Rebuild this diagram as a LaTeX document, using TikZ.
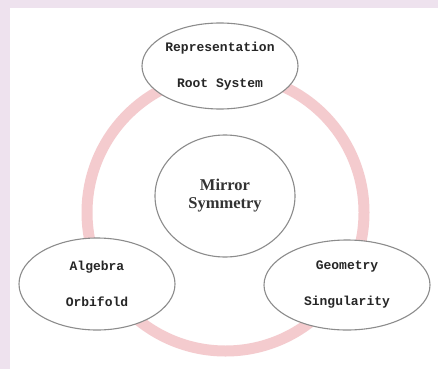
\documentclass[tikz,border=0pt]{standalone}
\usepackage{fontspec}
\usepackage{xcolor}
\usepackage{tikz}
\usetikzlibrary{shapes.geometric}
\setmainfont{Liberation Serif}
\newfontfamily\gothfont{Liberation Mono}
\definecolor{frame}{HTML}{EEE2EE}
\definecolor{rim}{HTML}{F4CBCE}
\definecolor{edge}{HTML}{8C8C8C}
\tikzset{
  topic/.style={ellipse,draw=edge,line width=1.1pt,fill=white,inner sep=0pt,align=center,
    font=\gothfont\bfseries\fontsize{13}{36}\selectfont,text=black!85},
  hub/.style={ellipse,draw=edge,line width=1.1pt,fill=white,inner sep=0pt,align=center,
    font=\bfseries\fontsize{16.5}{18}\selectfont,text=black!80},
  ring/.style={rim,line width=11pt},
}
\begin{document}
\begin{tikzpicture}[x=1pt,y=-1pt]
\fill[frame] (0,0) rectangle (438,369);
\fill[white] (10,8.5) rectangle (438,369);
\useasboundingbox (0,0) rectangle (438,369);
\coordinate (c) at (225.5,212.5);
\draw[ring] (c) circle[radius=138.5];
\node[hub,minimum width=140,minimum height=122] (mir) at (225,196) {Mirror\\Symmetry};
\node[topic,minimum width=156,minimum height=86] (rep) at (220,66) {Representation\\Root System};
\node[topic,minimum width=156,minimum height=92] (alg) at (97,284) {Algebra\\Orbifold};
\node[topic,minimum width=166,minimum height=90] (geo) at (347,285) {Geometry\\Singularity};
\end{tikzpicture}
\end{document}
